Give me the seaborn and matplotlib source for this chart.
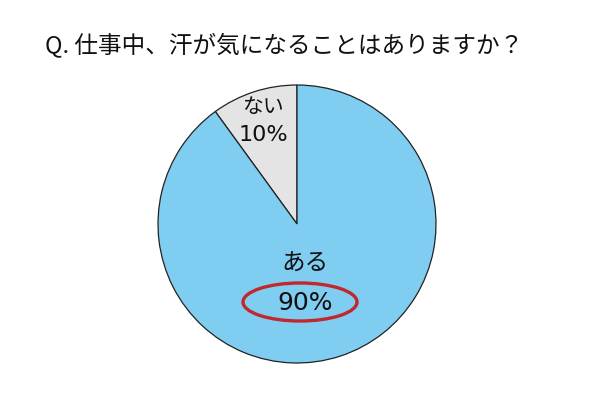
import matplotlib
matplotlib.use("Agg")
import matplotlib.pyplot as plt
from matplotlib.patches import Ellipse
import seaborn as sns

title = "Q. 仕事中、汗が気になることはありますか？"
categories = ["ない", "ある"]
values = [10, 90]
colors = ["#E4E4E4", "#80CDF2"]

sns.set_theme(style="white")
plt.rcParams['font.family'] = ['Noto Sans CJK JP', 'DejaVu Sans']

W, H = 610, 400
fig = plt.figure(figsize=(W / 100, H / 100), dpi=100)
ax = fig.add_axes([0, 0, 1, 1])

cx, cy, r = 297, H - 224, 139
ax.pie(values, colors=colors, startangle=90, counterclock=True,
       center=(cx, cy), radius=r,
       wedgeprops=dict(edgecolor="#222222", linewidth=0.9))
ax.set_xlim(0, W)
ax.set_ylim(0, H)
ax.set_aspect("equal")
ax.axis("off")

ax.text(284, H - 45, title, ha="center", va="center", fontsize=17, color="#111111")

label_pos = {"ない": (263, H - 107, H - 135, 15, 16),
             "ある": (305, H - 264, H - 303, 17, 18)}
for cat, val in zip(categories, values):
    x, y1, y2, fs1, fs2 = label_pos[cat]
    ax.text(x, y1, cat, ha="center", va="center", fontsize=fs1, color="#111111")
    ax.text(x, y2, f"{val}%", ha="center", va="center", fontsize=fs2,
            color="#111111", family=['DejaVu Sans', 'Noto Sans CJK JP'])

ax.add_patch(Ellipse((300, H - 302), 114, 38, fill=False, edgecolor="#C1272D", linewidth=2.4))

fig.savefig("out.png", dpi=100, facecolor="white")
